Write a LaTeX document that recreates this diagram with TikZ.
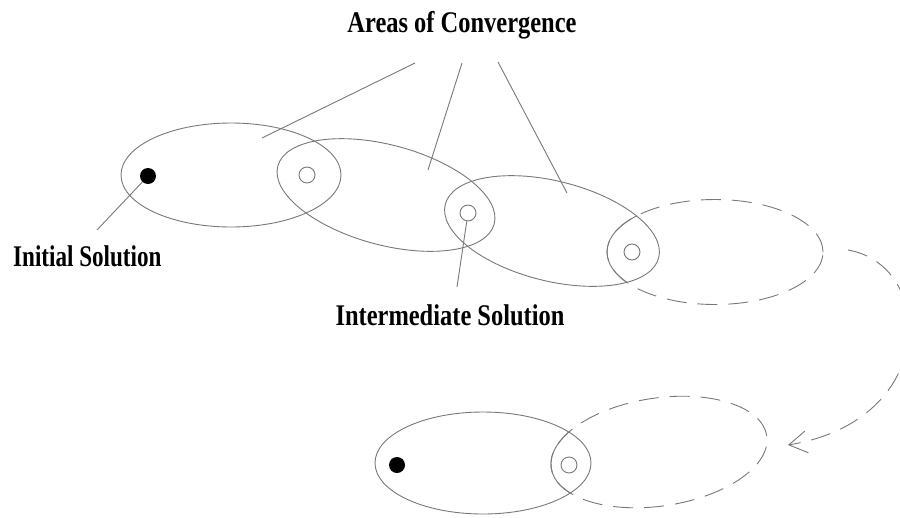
\documentclass[tikz,border=0pt]{standalone}
\usepackage{fontspec}
\newfontfamily\lblfont{Liberation Serif}[FakeStretch=0.815]
\newfontfamily\lblfontn{Liberation Serif}[FakeStretch=0.77]
\usetikzlibrary{arrows.meta}
\definecolor{ln}{RGB}{120,120,120}
\tikzset{
  x=1pt, y=1pt,
  curve/.style={draw=ln, line width=0.9pt},
  dashcurve/.style={draw=ln, line width=0.9pt, dash pattern=on 20pt off 11pt},
  ring/.style={circle, draw=ln, line width=0.9pt, minimum size=16pt, inner sep=0pt},
  blackdot/.style={circle, fill=black, minimum size=16pt, inner sep=0pt},
  lbl/.style={font=\lblfont\bfseries\fontsize{30pt}{36pt}\selectfont, inner sep=0pt, text=black},
  lbln/.style={font=\lblfontn\bfseries\fontsize{30pt}{36pt}\selectfont, inner sep=0pt, text=black},
  pointer/.style={draw=ln, line width=0.9pt},
}
\begin{document}
\begin{tikzpicture}
\useasboundingbox (0,0) rectangle (900,-517);

% upper chain of ellipses
\draw[curve] (231,-175) ellipse [x radius=110pt, y radius=52pt];
\draw[curve, rotate around={-15:(386,-195)}] (386,-195) ellipse [x radius=112pt, y radius=50pt];
\draw[curve, rotate around={-14:(552,-231)}] (552,-231) ellipse [x radius=110pt, y radius=50pt];
\draw[dashcurve] (715,-252) ellipse [x radius=108pt, y radius=52.5pt];
\begin{scope}
  \clip[rotate around={-14:(552,-231)}] (552,-231) ellipse [x radius=110pt, y radius=50pt];
  \draw[curve] (715,-252) ellipse [x radius=108pt, y radius=52.5pt];
\end{scope}

% lower pair of ellipses
\draw[curve] (483,-463) ellipse [x radius=108pt, y radius=51pt];
\draw[dashcurve, rotate around={8.5:(659,-452)}] (659,-452) ellipse [x radius=109pt, y radius=54pt];
\begin{scope}
  \clip (483,-463) ellipse [x radius=108pt, y radius=51pt];
  \draw[curve, rotate around={8.5:(659,-452)}] (659,-452) ellipse [x radius=109pt, y radius=54pt];
\end{scope}

% solutions
\node[blackdot] (dot1) at (148,-176) {};
\node[ring] (o1) at (307,-175) {};
\node[ring] (o2) at (468,-213) {};
\node[ring] (o3) at (632,-252) {};
\node[blackdot] (dot2) at (397,-465) {};
\node[ring] (o4) at (569,-465) {};

% labels
\node[lbl, anchor=base] (areas) at (462,-32) {Areas of Convergence};
\node[lbln, anchor=base west] (init) at (13,-266) {Initial Solution};
\node[lbl, anchor=base] (inter) at (450,-325) {Intermediate Solution};

% pointer lines
\coordinate (a1s) at (415,-63);
\coordinate (a1e) at (262,-138);
\coordinate (a2s) at (462,-63);
\coordinate (a2e) at (428,-170);
\coordinate (a3s) at (498,-62);
\coordinate (a3e) at (567,-193);
\coordinate (ie) at (97,-230);
\coordinate (me) at (457,-287);
\draw[pointer] (a1s) -- (a1e);
\draw[pointer] (a2s) -- (a2e);
\draw[pointer] (a3s) -- (a3e);
\draw[pointer] (dot1) -- (ie);
\draw[pointer] (o2) -- (me);

% dashed return arrow
\coordinate (arrS) at (848,-250);
\coordinate (arrE) at (788,-445);
\draw[dashcurve, -{Straight Barb[length=18pt, width=22pt, line width=0.9pt]}]
  (arrS) .. controls (935,-265) and (940,-420) .. (arrE);
\end{tikzpicture}
\end{document}
